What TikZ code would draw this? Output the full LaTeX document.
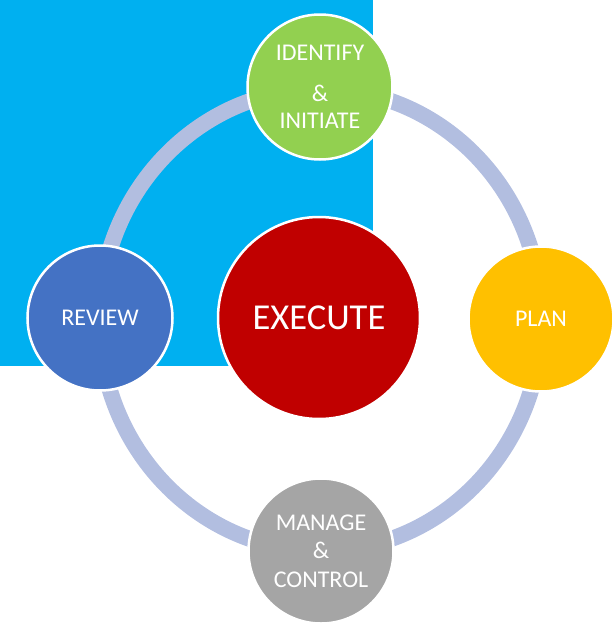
\documentclass[tikz,border=0pt]{standalone}
\usepackage{fontspec}
\setmainfont{Carlito}
\definecolor{bgblue}{RGB}{0,176,240}
\definecolor{ringc}{RGB}{178,190,224}
\definecolor{cgreen}{RGB}{146,208,80}
\definecolor{cyellow}{RGB}{255,192,0}
\definecolor{cblue}{RGB}{68,114,196}
\definecolor{cgrey}{RGB}{165,165,165}
\definecolor{cred}{RGB}{192,0,0}
\begin{document}
\begin{tikzpicture}[x=1pt,y=-1pt,
  phase/.style={circle,draw=white,line width=2.5pt,minimum size=145pt,inner sep=0pt,
    text=white,align=center,font=\fontsize{24}{28.5}\selectfont},
  ring/.style={draw=ringc,line width=16pt}]
\useasboundingbox (0,0) rectangle (615,627);
\fill[bgblue] (0,0) rectangle (373,366);
\coordinate (mid) at (320.5,320);
\draw[ring] (mid) ellipse [x radius=221,y radius=231];
\node[phase,fill=cgreen] (ident) at (320,87) {IDENTIFY\\[12pt]\&\\[-1.5pt]INITIATE};
\node[phase,fill=cyellow] (plan) at (541,319) {PLAN};
\node[phase,fill=cblue] (review) at (100,318) {REVIEW};
\node[phase,fill=cgrey] (manage) at (321,551) {MANAGE\\\&\\CONTROL};
\node[phase,fill=cred,minimum size=202pt,font=\fontsize{36.5}{40}\selectfont] (exec) at (319,318) {EXECUTE};
\end{tikzpicture}
\end{document}
